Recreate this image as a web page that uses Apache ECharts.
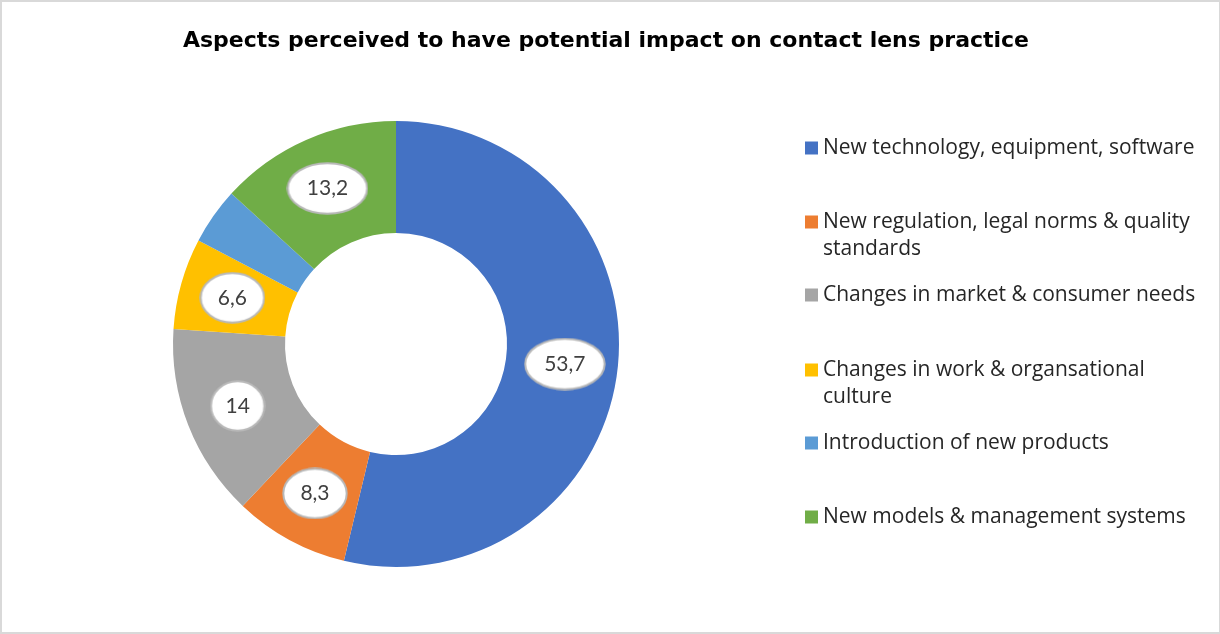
<!DOCTYPE html>
<html>
<head>
<meta charset="utf-8">
<script src="https://cdn.jsdelivr.net/npm/echarts@6/dist/echarts.min.js"></script>
<style>
  html, body { margin: 0; padding: 0; background: #fff; }
  #chart {
    width: 1220px; height: 634px; box-sizing: border-box;
    border-style: solid; border-color: #d9d9d9;
    border-width: 2px 1px 2px 2px;
  }
</style>
</head>
<body>
<div id="chart"></div>
<script>
// Share of respondents (%) naming each aspect
const categories = [
  'New technology, equipment, software',
  'New regulation, legal norms & quality standards',
  'Changes in market & consumer needs',
  'Changes in work & organsational culture',
  'Introduction of new products',
  'New models & management systems'
];
const values = [53.7, 8.3, 14, 6.6, 4.1, 13.2];
const valueLabels = ['53,7', '8,3', '14', '6,6', '4,1', '13,2'];
const colors = ['#4472C4', '#ED7D31', '#A5A5A5', '#FFC000', '#5B9BD5', '#70AD47'];

// Where the legend text wraps onto a second line
const wrapAfter = {
  'New regulation, legal norms & quality standards': 'New regulation, legal norms & quality',
  'Changes in work & organsational culture': 'Changes in work & organsational'
};

// White ellipse with grey outline used behind each value label
function ellipseImage(w, h) {
  const c = document.createElement('canvas');
  c.width = w; c.height = h;
  const ctx = c.getContext('2d');
  ctx.beginPath();
  ctx.ellipse(w / 2, h / 2, w / 2 - 1.3, h / 2 - 1.3, 0, 0, Math.PI * 2);
  ctx.fillStyle = '#ffffff';
  ctx.fill();
  ctx.lineWidth = 2;
  ctx.strokeStyle = '#b8b8b8';
  ctx.stroke();
  return c;
}

const labelFont = { fontFamily: 'Lato', fontSize: 21, color: '#404040', align: 'center' };
const bubble = {
  b2: Object.assign({ width: 56, height: 52, lineHeight: 52, backgroundColor: { image: ellipseImage(56, 52) } }, labelFont),
  b3: Object.assign({ width: 66, height: 52, lineHeight: 52, backgroundColor: { image: ellipseImage(66, 52) } }, labelFont),
  b4: Object.assign({ width: 82, height: 53, lineHeight: 53, backgroundColor: { image: ellipseImage(82, 53) } }, labelFont)
};

const pieData = categories.map((name, i) => ({
  name: name,
  value: values[i],
  itemStyle: { color: colors[i] },
  label: { formatter: '{b' + valueLabels[i].length + '|' + valueLabels[i] + '}' }
}));

// Legend rows: vertical centre of each marker (first text line sits on the marker)
const legendRowY = [146, 220, 293, 368, 441, 515];
const legendLineH = 27;
const legends = categories.map((name, i) => {
  const twoLines = !!wrapAfter[name];
  const boxH = twoLines ? legendLineH * 3 : legendLineH;
  return {
    data: [name],
    orient: 'vertical',
    left: 803,
    top: legendRowY[i] - boxH / 2,
    padding: 0,
    icon: 'rect',
    itemWidth: 13,
    itemHeight: 13,
    selectedMode: false,
    // a blank first line keeps the first text line centred on the marker
    formatter: n => wrapAfter[n]
      ? ' \n' + wrapAfter[n] + '\n' + n.slice(wrapAfter[n].length + 1)
      : n,
    textStyle: {
      fontFamily: 'Open Sans',
      fontSize: 21,
      color: '#262626',
      lineHeight: legendLineH
    }
  };
});

const chart = echarts.init(document.getElementById('chart'), null, { renderer: 'canvas' });
chart.setOption({
  animation: false,
  title: {
    text: 'Aspects perceived to have potential impact on contact lens practice',
    left: 599,
    top: 23,
    textAlign: 'center',
    textStyle: {
      fontFamily: 'DejaVu Sans',
      fontWeight: 'bold',
      fontSize: 22,
      color: '#000000'
    }
  },
  legend: legends,
  series: [{
    type: 'pie',
    center: [394, 342],
    radius: [111, 223],
    startAngle: 90,
    clockwise: true,
    silent: true,
    label: {
      show: true,
      position: 'inside',
      rich: bubble
    },
    labelLine: { show: false },
    emphasis: { disabled: true },
    data: pieData
  }]
});
</script>
</body>
</html>
